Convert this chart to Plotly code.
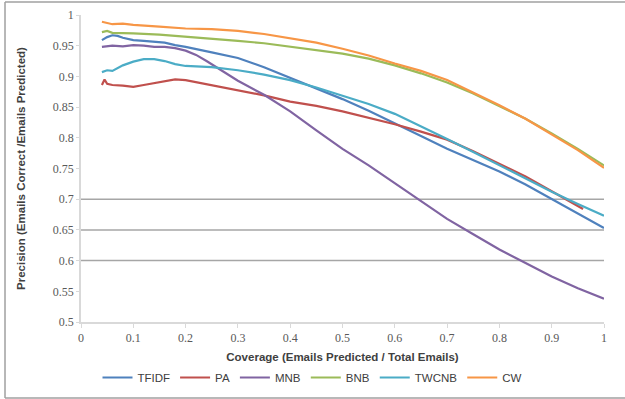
import plotly.graph_objects as go

# ---- data ----
cov_tfidf = [0.04,0.05,0.06,0.07,0.08,0.10,0.12,0.14,0.16,0.18,0.20,0.25,0.30,0.35,0.40,0.45,0.50,0.55,0.60,0.65,0.70,0.75,0.80,0.85,0.90,0.95,1.00]
tfidf     = [0.959,0.964,0.967,0.966,0.963,0.959,0.958,0.957,0.955,0.951,0.948,0.939,0.930,0.915,0.898,0.881,0.863,0.844,0.824,0.803,0.782,0.763,0.745,0.724,0.700,0.676,0.653]

cov_pa = [0.04,0.045,0.05,0.06,0.08,0.10,0.12,0.14,0.16,0.18,0.20,0.25,0.30,0.35,0.40,0.45,0.50,0.55,0.60,0.65,0.70,0.75,0.80,0.85,0.90,0.96]
pa     = [0.886,0.895,0.888,0.886,0.885,0.883,0.886,0.889,0.892,0.895,0.894,0.886,0.877,0.869,0.859,0.852,0.843,0.833,0.822,0.810,0.797,0.778,0.758,0.737,0.713,0.684]

cov_mnb = [0.04,0.06,0.08,0.10,0.12,0.14,0.16,0.18,0.20,0.22,0.24,0.26,0.30,0.35,0.40,0.45,0.50,0.55,0.60,0.65,0.70,0.75,0.80,0.85,0.90,0.95,1.00]
mnb     = [0.948,0.950,0.949,0.951,0.950,0.948,0.948,0.946,0.942,0.935,0.925,0.914,0.893,0.870,0.843,0.812,0.782,0.755,0.726,0.697,0.668,0.643,0.618,0.596,0.574,0.555,0.538]

cov_bnb = [0.04,0.05,0.06,0.08,0.10,0.15,0.20,0.25,0.30,0.35,0.40,0.45,0.50,0.55,0.60,0.65,0.70,0.75,0.80,0.85,0.90,0.95,1.00]
bnb     = [0.972,0.974,0.971,0.971,0.970,0.968,0.965,0.962,0.958,0.954,0.948,0.942,0.937,0.929,0.918,0.905,0.890,0.872,0.852,0.831,0.807,0.782,0.755]

cov_twcnb = [0.04,0.05,0.06,0.08,0.10,0.12,0.14,0.16,0.18,0.20,0.25,0.30,0.35,0.40,0.45,0.50,0.55,0.60,0.65,0.70,0.75,0.80,0.85,0.90,0.95,1.00]
twcnb     = [0.907,0.910,0.909,0.918,0.924,0.928,0.928,0.925,0.920,0.917,0.915,0.910,0.903,0.894,0.882,0.869,0.855,0.839,0.819,0.798,0.777,0.755,0.734,0.712,0.692,0.673]

cov_cw = [0.04,0.05,0.06,0.08,0.10,0.15,0.20,0.25,0.30,0.35,0.40,0.45,0.50,0.55,0.60,0.65,0.70,0.75,0.80,0.85,0.90,0.95,1.00]
cw     = [0.989,0.987,0.985,0.986,0.984,0.981,0.978,0.977,0.974,0.969,0.962,0.955,0.945,0.934,0.921,0.909,0.894,0.874,0.853,0.831,0.806,0.780,0.751]

series_names = ["TFIDF", "PA", "MNB", "BNB", "TWCNB", "CW"]
series_x = [cov_tfidf, cov_pa, cov_mnb, cov_bnb, cov_twcnb, cov_cw]
series_y = [tfidf, pa, mnb, bnb, twcnb, cw]
colors = ["#4F81BD", "#C0504D", "#8064A2", "#9BBB59", "#4BACC6", "#F79646"]

x_ticks = [0, 0.1, 0.2, 0.3, 0.4, 0.5, 0.6, 0.7, 0.8, 0.9, 1]
x_tick_text = ["0", "0.1", "0.2", "0.3", "0.4", "0.5", "0.6", "0.7", "0.8", "0.9", "1"]
y_ticks = [0.5, 0.55, 0.6, 0.65, 0.7, 0.75, 0.8, 0.85, 0.9, 0.95, 1]
y_tick_text = ["0.5", "0.55", "0.6", "0.65", "0.7", "0.75", "0.8", "0.85", "0.9", "0.95", "1"]
grid_levels = [0.6, 0.65, 0.7]

fig = go.Figure()
for name, xs, ys, c in zip(series_names, series_x, series_y, colors):
    fig.add_trace(go.Scatter(x=xs, y=ys, mode="lines", name=name,
                             line=dict(color=c, width=2.2)))

shapes = []
for g in grid_levels:
    shapes.append(dict(type="line", xref="paper", yref="y", x0=0, x1=1, y0=g, y1=g,
                       line=dict(color="#A6A6A6", width=1.5), layer="below"))
# outer chart border: left, top and bottom edges (right edge is outside the picture)
border = dict(color="#A0A0A0", width=1.5)
bx0, bx1, by0, by1 = -0.1453, 1.3, -0.2476, 1.0423
shapes.append(dict(type="line", xref="paper", yref="paper", x0=bx0, x1=bx0, y0=by0, y1=by1, line=border, layer="below"))
shapes.append(dict(type="line", xref="paper", yref="paper", x0=bx0, x1=bx1, y0=by1, y1=by1, line=border, layer="below"))
shapes.append(dict(type="line", xref="paper", yref="paper", x0=bx0, x1=bx1, y0=by0, y1=by0, line=border, layer="below"))

tick_font = dict(family="Liberation Serif, DejaVu Serif, serif", size=12, color="#595959")
title_font = dict(family="Liberation Sans Narrow, Liberation Sans, Arial", size=11.5, color="#404040")

fig.update_layout(
    width=625, height=399,
    margin=dict(l=81, r=21, t=15, b=77),
    paper_bgcolor="white", plot_bgcolor="white",
    showlegend=True,
    legend=dict(orientation="h", x=0.5, xanchor="center", xref="container",
                y=0.0175, yanchor="bottom", yref="container",
                font=dict(family="Liberation Sans Narrow, Liberation Sans, Arial", size=11.5, color="#404040"),
                itemwidth=30, tracegroupgap=0, bgcolor="rgba(0,0,0,0)"),
    shapes=shapes,
    xaxis=dict(range=[0, 1], tickvals=x_ticks, ticktext=x_tick_text, showgrid=False,
               zeroline=False, showline=True, linecolor="#D9D9D9", linewidth=1.5,
               ticks="outside", ticklen=4, tickcolor="#D9D9D9", tickfont=tick_font,
               automargin=False,
               title=dict(text="<b>Coverage (Emails Predicted / Total Emails)</b>",
                          font=title_font, standoff=20)),
    yaxis=dict(range=[0.5, 1], tickvals=y_ticks, ticktext=y_tick_text, showgrid=False,
               zeroline=False, showline=True, linecolor="#D9D9D9", linewidth=1.5,
               ticks="outside", ticklen=3, tickcolor="#D9D9D9", tickfont=tick_font,
               automargin=False,
               title=dict(text="<b>Precision (Emails Correct /Emails Predicted)</b>",
                          font=title_font, standoff=25)),
)

fig.write_html("out.html", config={"displayModeBar": False},
               post_script="document.body.style.margin='0';")
